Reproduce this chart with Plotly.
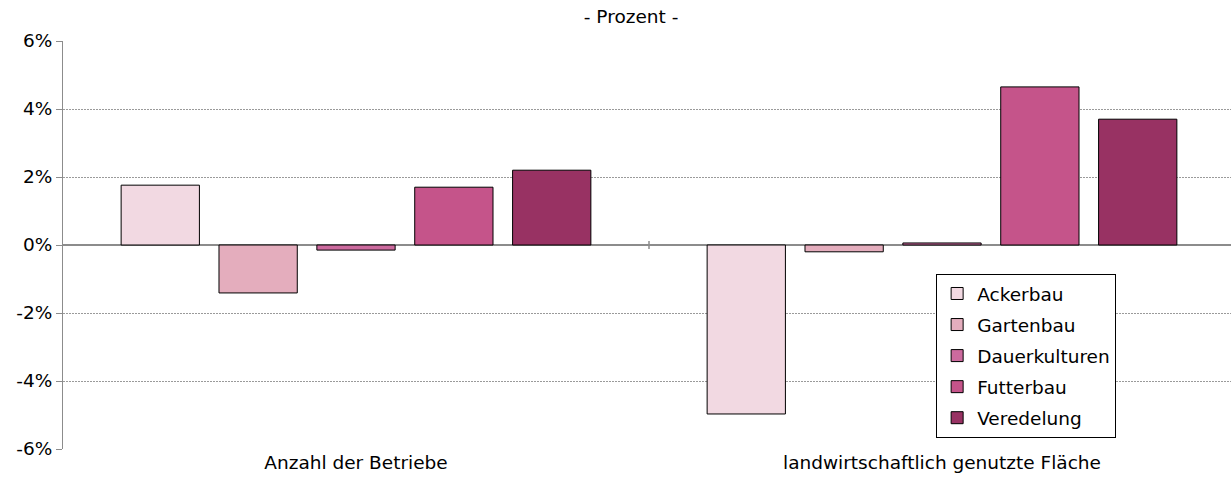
import plotly.graph_objects as go

categories = ["Anzahl der Betriebe", "landwirtschaftlich genutzte Fläche"]
series_names = ["Ackerbau", "Gartenbau", "Dauerkulturen", "Futterbau", "Veredelung"]
values = {
    "Ackerbau": [1.76, -4.97],
    "Gartenbau": [-1.41, -0.2],
    "Dauerkulturen": [-0.15, 0.06],
    "Futterbau": [1.70, 4.65],
    "Veredelung": [2.2, 3.7],
}
colors = ["#F2D9E2", "#E4ADBD", "#CC6A9E", "#C5548A", "#983263"]
y_ticks = [-6, -4, -2, 0, 2, 4, 6]

FONT = "DejaVu Sans, Verdana, sans-serif"
FS = 18.5

fig = go.Figure()
for name, col in zip(series_names, colors):
    fig.add_trace(go.Bar(
        x=categories, y=values[name], name=name, legendgroup=name,
        marker=dict(color=col, line=dict(color="#000000", width=1)),
    ))

fig.update_layout(
    width=1235, height=486,
    margin=dict(l=63, r=0, t=41, b=37),
    paper_bgcolor="white", plot_bgcolor="white",
    barmode="group", bargap=0.165, bargroupgap=0.2,
    font=dict(family=FONT, size=FS, color="#000000"),
    title=dict(text="- Prozent -", x=0.511, xanchor="center", y=0.98, yanchor="top",
               font=dict(family=FONT, size=FS, color="#000000")),
    showlegend=True,
    legend=dict(
        x=0.745, y=0.429, xanchor="left", yanchor="top",
        bordercolor="#000000", borderwidth=1, bgcolor="white",
        font=dict(family=FONT, size=FS, color="#000000"),
        tracegroupgap=4, itemwidth=30,
    ),
)
fig.update_xaxes(
    showgrid=False, showline=False, ticks="", zeroline=False,
    tickfont=dict(family=FONT, size=FS, color="#000000"),
)
fig.update_yaxes(
    range=[-6, 6], tickvals=y_ticks, ticktext=[f"{v}%" for v in y_ticks],
    showgrid=True, gridcolor="#9A9A9A", griddash="2px,1px", gridwidth=1,
    zeroline=True, zerolinecolor="#8C8C8C", zerolinewidth=1.5,
    showline=True, linecolor="#8C8C8C", linewidth=1,
    ticks="outside", ticklen=6, tickcolor="#8C8C8C",
    tickfont=dict(family=FONT, size=FS, color="#000000"),
)
# category boundary tick on the zero line
fig.add_shape(type="line", xref="x", yref="y", x0=0.5, x1=0.5, y0=-0.12, y1=0.12,
              line=dict(color="#8C8C8C", width=1.5))

fig.write_html(
    "out.html",
    config={"displayModeBar": False},
    post_script="document.body.style.margin='0';document.body.style.overflow='hidden';",
)
